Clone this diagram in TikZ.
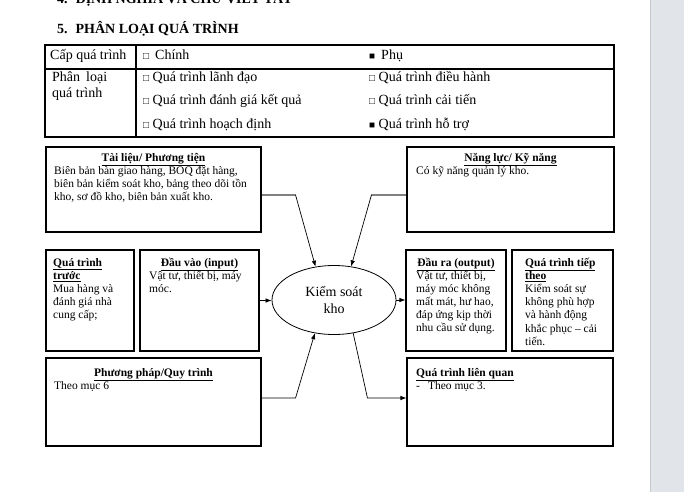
\documentclass[tikz,border=0pt]{standalone}
\usepackage{fontspec}
\setmainfont{Liberation Serif}
\usetikzlibrary{arrows.meta,shapes.geometric,fit,calc}
\definecolor{side}{HTML}{E1E4E8}
\definecolor{sideline}{HTML}{C6C8CB}
\definecolor{connGray}{HTML}{808080}
\tikzset{
  box/.style={draw=black, line width=1.1pt, rectangle, inner sep=0pt},
  ttl/.style={font=\bfseries\fontsize{11.5}{13.2}\selectfont, inner sep=0pt, anchor=base},
  ttlw/.style={font=\bfseries\fontsize{11.5}{13.2}\selectfont, inner sep=0pt, anchor=base west, align=left},
  txt/.style={font=\fontsize{11.5}{13.2}\selectfont, align=left, inner sep=0pt, anchor=base west},
  tab/.style={font=\fontsize{14}{16}\selectfont, inner sep=0pt, anchor=base west},
  conn/.style={draw=black, line width=0.7pt},
  grayconn/.style={draw=connGray, line width=1.4pt},
  arr/.style={-{Latex[length=6pt,width=4.5pt]}},
}
\newcommand{\ubf}[1]{\underline{#1}}
\newcommand{\wsq}{{\fontsize{10}{12}\selectfont □}}
\newcommand{\bsq}{{\fontsize{10}{12}\selectfont ■}}
\begin{document}
\begin{tikzpicture}[x=1pt,y=-1pt]
\useasboundingbox (0,0) rectangle (684,492);
\fill[white] (0,0) rectangle (684,492);
\fill[side] (650,0) rectangle (684,492);
\draw[sideline, line width=1pt] (650.5,0) -- (650.5,492);

% headings
\node[font=\bfseries\fontsize{14}{16}\selectfont, inner sep=0pt, anchor=base west] (h4) at (57,4) {4.\hspace{8pt}ĐỊNH NGHĨA VÀ CHỮ VIẾT TẮT};
\node[font=\bfseries\fontsize{14}{16}\selectfont, inner sep=0pt, anchor=base west] (h5) at (57,34) {5.\hspace{8pt}PHÂN LOẠI QUÁ TRÌNH};

% table
\draw[line width=1.1pt] (45,45) rectangle (614,137);
\draw[line width=1.1pt] (45,69) -- (614,69);
\draw[line width=1.1pt] (136,45) -- (136,137);
\node[tab] (c11) at (50,60) {Cấp quá trình};
\node[tab] (c12) at (143,60) {\wsq\hspace{6pt}Chính};
\node[tab] (c13) at (369,60) {\bsq\hspace{6pt}Phụ};
\node[tab, align=left] (c21) at (52,98) {Phân\hspace{6pt}loại\\quá trình};
\node[tab] (c22) at (143,82) {\wsq\ Quá trình lãnh đạo};
\node[tab] (c23) at (369,82) {\wsq\ Quá trình điều hành};
\node[tab] (c32) at (143,105) {\wsq\ Quá trình đánh giá kết quả};
\node[tab] (c33) at (369,105) {\wsq\ Quá trình cải tiến};
\node[tab] (c42) at (143,128) {\wsq\ Quá trình hoạch định};
\node[tab] (c43) at (369,128) {\bsq\ Quá trình hỗ trợ};

% boxes
\node[box, fit={(46,147) (261,232)}] (tl) {};
\node[box, fit={(407,147) (614,232)}] (nl) {};
\node[box, fit={(46,250) (134,351)}] (qt) {};
\node[box, fit={(140,250) (259,351)}] (dv) {};
\node[box, fit={(406,250) (506,351)}] (dr) {};
\node[box, fit={(512,250) (613,351)}] (tt) {};
\node[box, fit={(46,358) (261,446)}] (pp) {};
\node[box, fit={(407,358) (613,446)}] (lq) {};

\node[draw=black, line width=0.8pt, ellipse, minimum width=124pt, minimum height=69pt, inner sep=0pt,
      font=\fontsize{14}{17}\selectfont, align=center] (ks) at (334,300) {Kiểm soát\\kho};

% box texts (multi-line nodes are placed by the baseline of their last line)
\node[ttl] (tlT) at (153.5,161) {\ubf{Tài liệu/ Phương tiện}};
\node[txt] (tlB) at (54,200.4) {Biên bản bàn giao hàng, BOQ đặt hàng,\\biên bản kiểm soát kho, bảng theo dõi tồn\\kho, sơ đồ kho, biên bản xuất kho.};

\node[ttl] (nlT) at (510.5,161) {\ubf{Năng lực/ Kỹ năng}};
\node[txt] (nlB) at (416,174) {Có kỹ năng quản lý kho.};

\node[ttlw] (qtT) at (53,279.2) {\ubf{Quá trình}\\\ubf{trước}};
\node[txt] (qtB) at (53,318.8) {Mua hàng và\\đánh giá nhà\\cung cấp;};

\node[ttl] (dvT) at (199.5,266) {\ubf{Đầu vào (input)}};
\node[txt] (dvB) at (149,292.2) {Vật tư, thiết bị, máy\\móc.};

\node[ttl] (drT) at (456,266) {\ubf{Đầu ra (output)}};
\node[txt] (drB) at (416,331.8) {Vật tư, thiết bị,\\máy móc không\\mất mát, hư hao,\\đáp ứng kịp thời\\nhu cầu sử dụng.};

\node[ttlw] (ttT) at (525,279.2) {\ubf{Quá trình tiếp}\\\ubf{theo}};
\node[txt] (ttB) at (525,345.2) {Kiểm soát sự\\không phù hợp\\và hành động\\khắc phục – cải\\tiến.};

\node[ttl] (ppT) at (153.5,376) {\ubf{Phương pháp/Quy trình}};
\node[txt] (ppB) at (54,389) {Theo mục 6};

\node[ttlw] (lqT) at (416,376) {\ubf{Quá trình liên quan}};
\node[txt] (lqB) at (416,389) {-\hspace{8pt}Theo mục 3.};

% connectors
\coordinate (tlA) at ($(tl.east)+(0,5.5)$);
\coordinate (tlK) at ($(tlA)+(34,0)$);
\draw[grayconn] (tlA) -- (tlK);
\draw[conn, arr] (tlK) -- (ks.119);

\coordinate (nlA) at ($(nl.west)+(0,5.5)$);
\coordinate (nlK) at ($(nlA)+(-35,0)$);
\draw[grayconn] (nlA) -- (nlK);
\draw[conn, arr] (nlK) -- (ks.63);

\draw[conn, arr] (dv.east) -- (dv.east -| ks.west);
\draw[conn, arr] (ks.east) -- (ks.east -| dr.west);

\coordinate (ppA) at ($(pp.east)+(0,-4)$);
\coordinate (ppK) at ($(ppA)+(34,0)$);
\draw[conn, arr] (ppA) -- (ppK) -- (ks.240);

\coordinate (lqA) at ($(lq.west)+(0,-4)$);
\coordinate (lqK) at ($(lqA)+(-39,0)$);
\draw[conn, arr] (ks.300) -- (lqK) -- (lqA);
\end{tikzpicture}
\end{document}
